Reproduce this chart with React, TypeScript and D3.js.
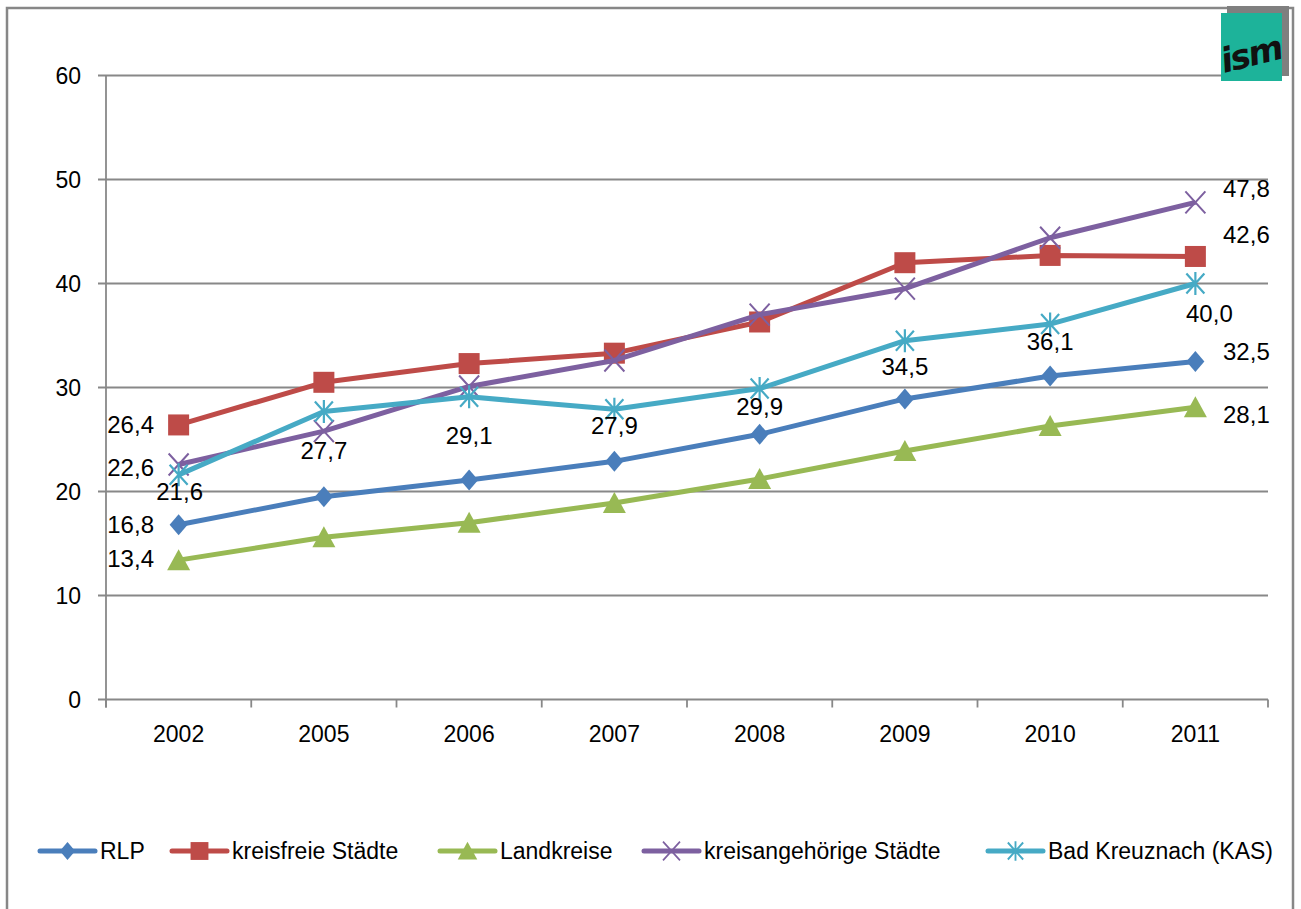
import React from "react";
import * as d3 from "d3";

const years = ["2002", "2005", "2006", "2007", "2008", "2009", "2010", "2011"];
const rlp = [16.8, 19.5, 21.1, 22.9, 25.5, 28.9, 31.1, 32.5];
const kreisfreie = [26.4, 30.5, 32.3, 33.3, 36.3, 42.0, 42.7, 42.6];
const landkreise = [13.4, 15.6, 17.0, 18.9, 21.2, 23.9, 26.3, 28.1];
const kreisangehoerige = [22.6, 25.8, 30.1, 32.6, 37.0, 39.5, 44.4, 47.8];
const badKreuznach = [21.6, 27.7, 29.1, 27.9, 29.9, 34.5, 36.1, 40.0];
const seriesNames = ["RLP", "kreisfreie Städte", "Landkreise", "kreisangehörige Städte", "Bad Kreuznach (KAS)"];
const yTicks = [0, 10, 20, 30, 40, 50, 60];

const seriesValues = [rlp, kreisfreie, landkreise, kreisangehoerige, badKreuznach];
const colors = ["#4A7EBB", "#BE4B48", "#98B954", "#7D60A0", "#46AAC5"];
const markerKinds = ["diamond", "square", "triangle", "x", "star"];

// label placement (style): [seriesIndex, pointIndex, dx, dy]
const labelPlacement: [number, number, number, number][] = [
  [0, 0, -48, 0], [0, 7, 51, -10],
  [1, 0, -48, -1], [1, 7, 51, -22],
  [2, 0, -48, -2], [2, 7, 51, 7],
  [3, 0, -48, 3], [3, 7, 51, -14],
  [4, 0, 1, 16], [4, 1, 0, 39], [4, 2, 0, 38], [4, 3, 0, 16],
  [4, 4, 0, 18], [4, 5, 0, 26], [4, 6, 0, 17], [4, 7, 14, 30],
];

const FONT = "'Liberation Sans', Arial, sans-serif";
const fmt = (v: number) => v.toFixed(1).replace(".", ",");

function Marker({ kind, color, x, y, s = 1 }: { kind: string; color: string; x: number; y: number; s?: number }) {
  const t = `translate(${x},${y}) scale(${s})`;
  if (kind === "diamond") return <path transform={t} d="M0,-10.5L9,0L0,10.5L-9,0Z" fill={color} />;
  if (kind === "square") return <rect transform={t} x={-10.5} y={-10.5} width={21} height={21} fill={color} />;
  if (kind === "triangle") return <path transform={t} d="M0,-11L11.5,10L-11.5,10Z" fill={color} />;
  if (kind === "x") return <path transform={t} d="M-10,-11L10,11M10,-11L-10,11" stroke={color} strokeWidth={2} fill="none" />;
  return <path transform={t} d="M-9,-10L9,10M9,-10L-9,10M0,-11.5L0,11.5" stroke={color} strokeWidth={2.2} fill="none" />;
}

export default function App() {
  const W = 1301, H = 909;
  const left = 106, right = 1268, top = 75.5, bottom = 699.5;
  const x = d3.scalePoint<string>().domain(years).range([left, right]).padding(0.5);
  const band = (right - left) / years.length;
  const y = d3.scaleLinear().domain([0, 60]).range([bottom, top]);
  const line = d3.line<number>().x((_, i) => x(years[i]) as number).y((v) => y(v));
  const grid = "#888888";

  const legendX = [40, 172, 440, 644, 988];

  return (
    <svg width={W} height={H} style={{ position: "absolute", left: 0, top: 0, fontFamily: FONT }}>
      <rect x={0} y={0} width={W} height={H} fill="#fff" />
      <rect x={7} y={8} width={1286} height={930} fill="none" stroke="#878787" strokeWidth={2.5} />
      {/* gridlines */}
      {yTicks.map((t) => (
        <line key={t} x1={left - 8} x2={right} y1={y(t)} y2={y(t)} stroke={grid} strokeWidth={t === 0 ? 2 : 1.8} />
      ))}
      <line x1={left} x2={left} y1={top} y2={bottom + 8} stroke={grid} strokeWidth={1.8} />
      {d3.range(years.length + 1).map((i) => (
        <line key={i} x1={left + i * band} x2={left + i * band} y1={bottom} y2={bottom + 8} stroke={grid} strokeWidth={1.8} />
      ))}
      {yTicks.map((t) => (
        <text key={t} x={81} y={y(t)} dy="0.36em" textAnchor="end" fontSize={23} fill="#000">{t}</text>
      ))}
      {years.map((yr) => (
        <text key={yr} x={x(yr)} y={742} textAnchor="middle" fontSize={23} fill="#000">{yr}</text>
      ))}
      {/* series */}
      {seriesValues.map((vals, si) => (
        <g key={si}>
          <path d={line(vals) as string} fill="none" stroke={colors[si]} strokeWidth={5} strokeLinejoin="round" />
          {vals.map((v, i) => (
            <Marker key={i} kind={markerKinds[si]} color={colors[si]} x={x(years[i]) as number} y={y(v)} />
          ))}
        </g>
      ))}
      {/* labels */}
      {labelPlacement.map(([si, pi, dx, dy], k) => (
        <text key={k} x={(x(years[pi]) as number) + dx} y={y(seriesValues[si][pi]) + dy} dy="0.36em" textAnchor="middle" fontSize={24} fill="#000">
          {fmt(seriesValues[si][pi])}
        </text>
      ))}
      {/* legend */}
      {seriesNames.map((n, si) => (
        <g key={n}>
          <line x1={legendX[si]} x2={legendX[si] + 55} y1={851} y2={851} stroke={colors[si]} strokeWidth={5} strokeLinecap="round" />
          <Marker kind={markerKinds[si]} color={colors[si]} x={legendX[si] + 27.5} y={851} s={0.85} />
          <text x={legendX[si] + 60} y={851} dy="0.36em" fontSize={23} fill="#000">{n}</text>
        </g>
      ))}
      {/* logo */}
      <rect x={1227} y={6} width={62} height={70} fill="#7f7f7f" />
      <rect x={1221} y={13} width={61} height={68} fill="#1DB39A" />
      <text x={1251} y={66} textAnchor="middle" fontSize={34} fontWeight="bold" fontStyle="italic" fill="#111" transform="rotate(-14,1251,55)" fontFamily="'DejaVu Sans', sans-serif" letterSpacing={-2}>ism</text>
    </svg>
  );
}
